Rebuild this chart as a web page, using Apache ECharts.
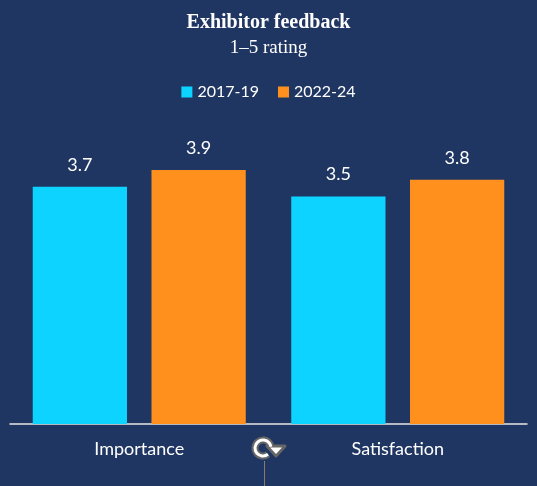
<!DOCTYPE html>
<html style="height: 100%">
<head>
    <meta charset="utf-8">
    <script type="text/javascript" src="https://cdn.jsdelivr.net/npm/echarts@6/dist/echarts.min.js"></script>
    <title>Exhibitor feedback</title>
</head>
<body style="height: 100%; margin: 0; background: #203662">
<div id="container" style="height: 100%"></div>
</body>
<script type="text/javascript">
    // data (labels are rounded to one decimal)
    let categories = ['Importance', 'Satisfaction'];
    let seriesNames = ['2017-19', '2022-24'];
    let values2017 = [3.66, 3.51];
    let values2022 = [3.92, 3.77];
    let colors = ['#0cd3ff', '#ff901e'];

    let dom = document.getElementById("container");
    let myChart = echarts.init(dom);
    let sans = 'Lato, "Noto Sans", sans-serif';
    let serif = '"Liberation Serif", "DejaVu Serif", serif';

    let barLabel = {
        show: true,
        position: 'top',
        distance: 13,
        color: '#ffffff',
        fontFamily: sans,
        fontSize: 18,
        formatter: p => p.value.toFixed(1)
    };

    let option = {
        backgroundColor: '#203662',
        color: colors,
        title: {
            text: 'Exhibitor feedback',
            subtext: '1–5 rating',
            left: 'center',
            top: 8,
            itemGap: 6,
            textStyle: {
                fontFamily: serif,
                fontWeight: 'bold',
                fontSize: 20,
                color: '#ffffff'
            },
            subtextStyle: {
                fontFamily: serif,
                fontSize: 19,
                color: '#ffffff'
            }
        },
        legend: {
            top: 79,
            left: 'center',
            itemWidth: 11,
            itemHeight: 11,
            itemGap: 19,
            icon: 'rect',
            textStyle: {
                color: '#ffffff',
                fontFamily: sans,
                fontSize: 16
            },
            data: seriesNames
        },
        grid: {
            left: 10,
            right: 10,
            top: 100,
            bottom: 62
        },
        xAxis: {
            type: 'category',
            data: categories,
            axisTick: {show: false},
            axisLine: {lineStyle: {color: '#e6e6e6', width: 1.5}},
            axisLabel: {
                color: '#ffffff',
                fontFamily: sans,
                fontSize: 18,
                margin: 16
            }
        },
        yAxis: {
            type: 'value',
            min: 0,
            max: 5,
            show: false
        },
        series: [
            {
                name: seriesNames[0],
                type: 'bar',
                data: values2017,
                barGap: '26%',
                barCategoryGap: '17.6%',
                label: barLabel
            },
            {
                name: seriesNames[1],
                type: 'bar',
                data: values2022,
                label: barLabel
            }
        ],
        graphic: [
            {
                type: 'line',
                shape: {x1: 264.5, y1: 461, x2: 264.5, y2: 486},
                style: {stroke: '#8a7a6a', lineWidth: 1}
            },
            {
                type: 'arc',
                shape: {cx: 263, cy: 448, r: 8, startAngle: 0.9, endAngle: Math.PI * 2 - 0.15},
                style: {stroke: '#666666', lineWidth: 7, fill: null}
            },
            {
                type: 'polygon',
                shape: {points: [[267, 446], [285, 446], [276, 456]]},
                style: {fill: '#666666', stroke: '#666666', lineWidth: 3, lineJoin: 'round'}
            },
            {
                type: 'arc',
                shape: {cx: 263, cy: 448, r: 8, startAngle: 0.9, endAngle: Math.PI * 2 - 0.15},
                style: {stroke: '#ffffff', lineWidth: 3, fill: null}
            },
            {
                type: 'polygon',
                shape: {points: [[270, 447.5], [282, 447.5], [276, 454]]},
                style: {fill: '#ffffff'}
            }
        ]
    };
    myChart.setOption(option);
</script>
</html>
